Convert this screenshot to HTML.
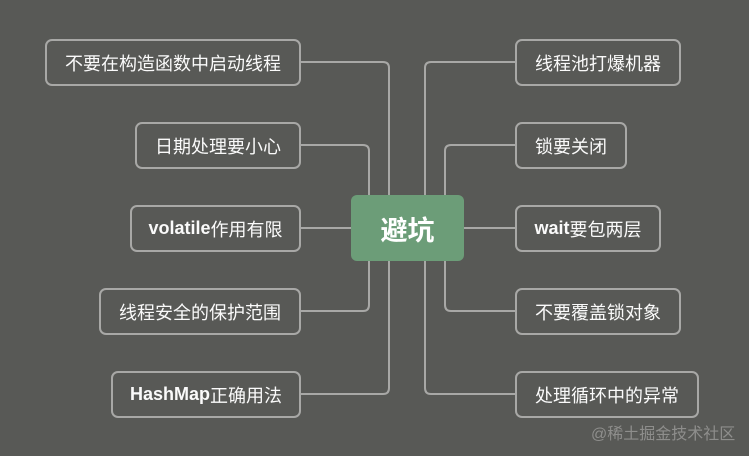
<!DOCTYPE html>
<html><head><meta charset="utf-8"><style>
html,body{margin:0;padding:0}
body{width:749px;height:456px;background:#585956;position:relative;overflow:hidden;font-family:"Liberation Sans","Noto Sans CJK SC",sans-serif}
.b{position:absolute;box-sizing:border-box;border:2px solid #a8a8a6;border-radius:7px;height:47px;display:flex;align-items:center;justify-content:center;color:#fafafa;font-size:18px;background:#585956;white-space:nowrap}
.b b{font-weight:bold}
.c{position:absolute;left:351px;top:195px;width:113px;height:66px;background:#6c9d78;border-radius:6px;color:#fff;font-size:27px;font-weight:bold;display:flex;align-items:center;justify-content:center}
.w{position:absolute;left:591px;top:420px;color:#8e8e8c;font-size:16px}
svg{position:absolute;left:0;top:0}
</style></head><body>
<svg width="749" height="456"><g fill="none" stroke="#a8a8a6" stroke-width="2">
<path d="M300 62 H383 Q389 62 389 68 V200"/>
<path d="M300 145 H363 Q369 145 369 151 V200"/>
<path d="M300 228 H351"/>
<path d="M369 255 V305 Q369 311 363 311 H300"/>
<path d="M389 255 V388 Q389 394 383 394 H300"/>
<path d="M515 62 H431 Q425 62 425 68 V200"/>
<path d="M515 145 H451 Q445 145 445 151 V200"/>
<path d="M464 228 H515"/>
<path d="M445 255 V305 Q445 311 451 311 H515"/>
<path d="M425 255 V388 Q425 394 431 394 H515"/>
</g></svg>
<div class="b" style="left:45px;top:39px;width:256px">不要在构造函数中启动线程</div>
<div class="b" style="left:135px;top:122px;width:166px">日期处理要小心</div>
<div class="b" style="left:130px;top:205px;width:171px"><b>volatile</b>作用有限</div>
<div class="b" style="left:99px;top:288px;width:202px">线程安全的保护范围</div>
<div class="b" style="left:111px;top:371px;width:190px"><b>HashMap</b>正确用法</div>
<div class="b" style="left:515px;top:39px;width:166px">线程池打爆机器</div>
<div class="b" style="left:515px;top:122px;width:112px">锁要关闭</div>
<div class="b" style="left:515px;top:205px;width:146px"><b>wait</b>要包两层</div>
<div class="b" style="left:515px;top:288px;width:166px">不要覆盖锁对象</div>
<div class="b" style="left:515px;top:371px;width:184px">处理循环中的异常</div>
<div class="c">避坑</div>
<div class="w">@稀土掘金技术社区</div>
</body></html>
